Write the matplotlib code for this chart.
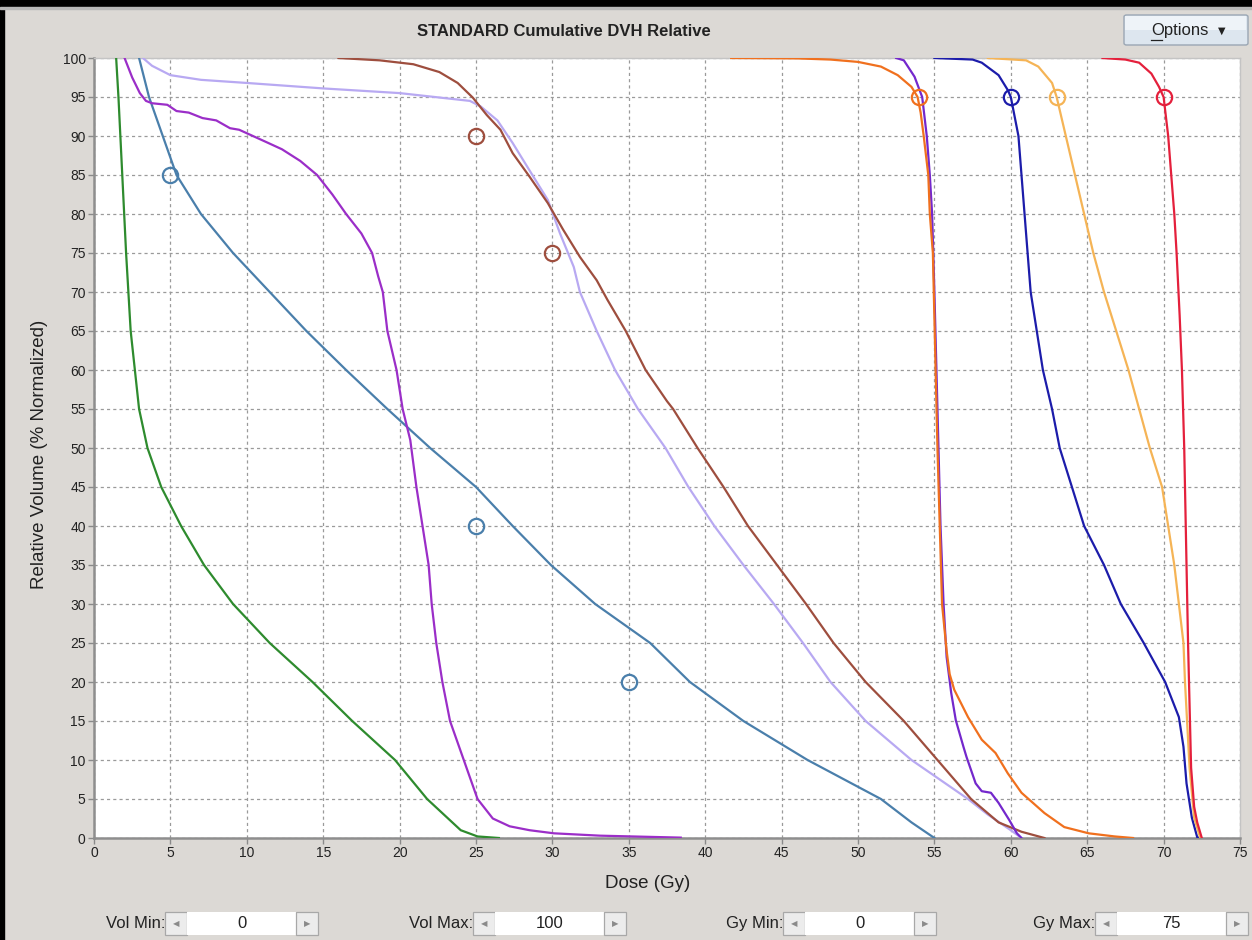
import matplotlib
matplotlib.use("Agg")
import matplotlib.pyplot as plt
from matplotlib.patches import Rectangle, FancyBboxPatch
from matplotlib.lines import Line2D

plt.rcParams['font.family'] = ['Liberation Sans', 'DejaVu Sans']

# ---------------- data (dose Gy, relative volume %) ----------------
green_dose = [1.45, 1.6, 1.85, 2.1, 2.4, 2.95, 3.5, 4.4, 5.7, 7.2, 9.1, 11.5, 14.3, 16.9, 19.7, 21.8, 24.0, 25.1, 26.5]
green_vol = [100, 95, 85, 75, 65, 55, 50, 45, 40, 35, 30, 25, 20, 15, 10, 5, 1, 0.2, 0]

steel_dose = [2.95, 3.6, 4.5, 5.4, 7.0, 9.1, 11.5, 13.9, 16.5, 19.2, 22.0, 25.0, 27.4, 29.9, 32.8, 36.4, 39.0, 42.5, 46.7, 51.5, 53.5, 55.0]
steel_vol = [100, 95, 90, 85, 80, 75, 70, 65, 60, 55, 50, 45, 40, 35, 30, 25, 20, 15, 10, 5, 2, 0]

magenta_dose = [2.0, 2.5, 3.0, 3.4, 3.8, 4.8, 5.4, 6.2, 7.1, 8.0, 8.9, 9.5, 10.4, 11.3, 12.3, 13.5, 14.6, 15.6, 16.5,
                17.5, 18.2, 18.6, 18.9, 19.2, 19.8, 20.2, 20.7, 21.1, 21.5, 21.9, 22.1, 22.4, 22.8, 23.3, 24.2, 25.1,
                26.1, 27.2, 28.5, 30.1, 33.1, 38.4]
magenta_vol = [100, 97.5, 95.5, 94.5, 94.2, 94.0, 93.2, 93.0, 92.3, 92.0, 91.0, 90.8, 90, 89.2, 88.3, 86.8, 85, 82.5, 80,
               77.5, 75, 72, 70, 65, 60, 55, 51, 45, 40, 35, 30, 25, 20, 15, 10, 5,
               2.5, 1.5, 1.0, 0.6, 0.3, 0.05]

lavender_dose = [3.2, 3.8, 5.0, 7.0, 10.0, 15.0, 20.0, 24.6, 25.3, 26.4, 27.4, 28.5, 29.7, 30.5, 31.4, 31.8, 32.9, 34.1,
                 35.6, 37.4, 38.9, 40.6, 42.5, 44.5, 46.4, 48.2, 50.5, 53.5, 57.2, 58.5, 60.0, 60.7]
lavender_vol = [100, 99, 97.8, 97.2, 96.8, 96.1, 95.5, 94.5, 93.8, 92, 89.1, 85.6, 81.8, 77.5, 73.2, 70, 65, 60,
                55, 50, 45, 40, 35, 30, 25, 20, 15, 10, 5, 3, 1, 0]

brown_dose = [16.0, 18.7, 20.9, 22.6, 23.8, 24.8, 25.7, 26.6, 27.4, 28.5, 29.7, 30.7, 31.8, 32.9, 33.6, 34.8, 36.1,
              37.5, 37.9, 39.5, 41.2, 42.8, 44.7, 46.6, 48.4, 50.5, 53.0, 55.2, 57.4, 59.2, 60.7, 62.2]
brown_vol = [100, 99.7, 99.2, 98.2, 96.8, 94.9, 92.7, 90.8, 87.8, 84.8, 81.4, 78, 74.5, 71.5, 69, 65, 60,
             56, 55, 50, 45, 40, 35, 30, 25, 20, 15, 10, 5, 2, 0.8, 0]

violet_dose = [52.5, 53.0, 53.7, 54.2, 54.5, 54.7, 54.85, 55.0, 55.2, 55.4, 55.6, 55.8, 56.1, 56.4, 56.9, 57.1, 57.7,
               58.1, 58.7, 59.2, 59.9, 60.4, 60.7]
violet_vol = [100, 99.7, 97.6, 95, 90, 85, 80, 70, 55, 40, 30, 23.2, 18.6, 15.1, 11.7, 10.4, 7, 6.0, 5.8, 4.5, 2.3, 0.6, 0]

orange_dose = [41.7, 46.0, 48.2, 50.0, 51.5, 52.6, 53.5, 53.9, 54.1, 54.3, 54.6, 54.7, 54.9, 55.2, 55.5, 55.8, 56.0,
               56.3, 57.2, 58.1, 59.0, 59.8, 60.7, 62.2, 63.5, 65.1, 66.8, 68.0]
orange_vol = [100, 99.95, 99.8, 99.5, 98.9, 97.8, 96.3, 95, 93, 90, 85, 80, 75, 50, 30, 24, 21,
              19, 15.5, 12.6, 10.9, 8.3, 5.8, 3.2, 1.4, 0.6, 0.2, 0]

navy_dose = [55.0, 57.5, 58.1, 59.2, 59.8, 60.0, 60.5, 60.7, 60.9, 61.1, 61.3, 61.7, 62.1, 62.7, 63.2, 64.0, 64.8,
             66.1, 67.2, 68.7, 70.1, 71.0, 71.3, 71.5, 71.85, 72.2, 72.4]
navy_vol = [100, 99.8, 99.4, 97.8, 95.9, 95, 90, 85, 80, 75, 70, 65, 60, 55, 50, 45, 40,
            35, 30, 25, 20, 15.5, 11.7, 7, 2.6, 0.1, 0]

lightorange_dose = [58.5, 61.0, 61.8, 62.7, 63.0, 63.6, 64.2, 64.8, 65.4, 66.1, 66.9, 67.7, 68.4, 69.1, 69.9, 70.3,
                    70.7, 71.0, 71.3, 71.4, 71.7, 72.0, 72.4]
lightorange_vol = [100, 99.7, 98.9, 96.8, 95, 90, 85, 80, 75, 70, 65, 60, 55, 50, 45, 40,
                   35, 30, 25, 20, 9, 2.6, 0]

red_dose = [66.0, 67.5, 68.4, 69.2, 69.7, 70.0, 70.3, 70.5, 70.7, 70.85, 71.05, 71.2, 71.35, 71.6, 71.8, 72.0, 72.2, 72.5]
red_vol = [100, 99.8, 99.4, 98, 96.3, 95, 90, 85, 80, 75, 67, 60, 50, 25, 9, 4, 2, 0]

# constraint markers (open circles)
steel_mk_dose = [5, 25, 35]
steel_mk_vol = [85, 40, 20]
brown_mk_dose = [25, 30]
brown_mk_vol = [90, 75]
orange_mk_dose = [54]
orange_mk_vol = [95]
navy_mk_dose = [60]
navy_mk_vol = [95]
lightorange_mk_dose = [63]
lightorange_mk_vol = [95]
red_mk_dose = [70]
red_mk_vol = [95]

x_ticks = list(range(0, 80, 5))
y_ticks = list(range(0, 105, 5))

title_text = "STANDARD Cumulative DVH Relative"
x_label = "Dose (Gy)"
y_label = "Relative Volume (% Normalized)"
control_labels = ["Vol Min:", "Vol Max:", "Gy Min:", "Gy Max:"]
control_values = ["0", "100", "0", "75"]

# ---------------- colours ----------------
C_GREEN = "#2e8b2e"
C_STEEL = "#4a7fab"
C_MAGENTA = "#9b2ec8"
C_LAVENDER = "#b8a9f2"
C_BROWN = "#9e4e3e"
C_VIOLET = "#7428cc"
C_ORANGE = "#f0701e"
C_NAVY = "#1c1caa"
C_LORANGE = "#f5b456"
C_RED = "#e4203c"
BG = "#dcd9d5"

W, H = 1252, 940
fig = plt.figure(figsize=(W / 100, H / 100), dpi=100, facecolor=BG)


def fx(x):
    return x / W


def fy(y):
    return 1 - y / H


# black frame parts
fig.patches.append(Rectangle((0, fy(7)), 1, 7 / H, transform=fig.transFigure, color="black", zorder=0))
fig.patches.append(Rectangle((0, 0), 4 / W, 1, transform=fig.transFigure, color="black", zorder=0))
fig.patches.append(Rectangle((0, fy(9)), 1, 2 / H, transform=fig.transFigure, color="#b8b8b8", zorder=0))

ax = fig.add_axes([fx(94), fy(838), (1240 - 94) / W, (838 - 58) / H])
ax.set_facecolor("white")

lw = 1.6
ax.plot(green_dose, green_vol, color=C_GREEN, lw=lw, zorder=3)
ax.plot(steel_dose, steel_vol, color=C_STEEL, lw=lw, zorder=3)
ax.plot(magenta_dose, magenta_vol, color=C_MAGENTA, lw=lw, zorder=3)
ax.plot(lavender_dose, lavender_vol, color=C_LAVENDER, lw=lw, zorder=3)
ax.plot(brown_dose, brown_vol, color=C_BROWN, lw=lw, zorder=3)
ax.plot(violet_dose, violet_vol, color=C_VIOLET, lw=lw, zorder=3)
ax.plot(orange_dose, orange_vol, color=C_ORANGE, lw=lw, zorder=3)
ax.plot(navy_dose, navy_vol, color=C_NAVY, lw=lw, zorder=3)
ax.plot(lightorange_dose, lightorange_vol, color=C_LORANGE, lw=lw, zorder=3)
ax.plot(red_dose, red_vol, color=C_RED, lw=lw, zorder=3)

mk = dict(marker="o", linestyle="none", markersize=11, markerfacecolor="none", markeredgewidth=1.6, zorder=4)
ax.plot(steel_mk_dose, steel_mk_vol, markeredgecolor=C_STEEL, **mk)
ax.plot(brown_mk_dose, brown_mk_vol, markeredgecolor=C_BROWN, **mk)
ax.plot(orange_mk_dose, orange_mk_vol, markeredgecolor=C_ORANGE, **mk)
ax.plot(navy_mk_dose, navy_mk_vol, markeredgecolor=C_NAVY, **mk)
ax.plot(lightorange_mk_dose, lightorange_mk_vol, markeredgecolor=C_LORANGE, **mk)
ax.plot(red_mk_dose, red_mk_vol, markeredgecolor=C_RED, **mk)

ax.set_xlim(0, 75)
ax.set_ylim(0, 100)
ax.set_xticks(x_ticks)
ax.set_yticks(y_ticks)
ax.grid(True, color="#9a9a9a", linestyle=(0, (2.5, 2.5)), linewidth=0.9, zorder=1)
ax.set_axisbelow(True)
ax.tick_params(axis="both", direction="out", length=4, width=1, color="#8a8a8a",
               labelsize=10, labelcolor="#222222", pad=2)
for side in ["left", "bottom"]:
    ax.spines[side].set_color("#8e8e8e")
    ax.spines[side].set_linewidth(1.8)
for side in ["top", "right"]:
    ax.spines[side].set_color("#c4c4c4")
    ax.spines[side].set_linewidth(1.0)

# axis labels
fig.text(fx(648), fy(884), x_label, ha="center", va="center", fontsize=13.5, color="#222222")
fig.text(fx(40), fy(454), y_label, ha="center", va="center", rotation=90, fontsize=13.5, color="#222222")

# title
fig.text(fx(564), fy(32), title_text, ha="center", va="center", fontsize=12, fontweight="bold", color="#222222")

# Options button
fig.patches.append(FancyBboxPatch((fx(1124), fy(45)), (1248 - 1124) / W, 30 / H,
                                  boxstyle="round,pad=0,rounding_size=0.002", transform=fig.transFigure,
                                  facecolor="#dde6ef", edgecolor="#9aa6b4", linewidth=1.0))
fig.patches.append(Rectangle((fx(1125), fy(30)), (1246 - 1125) / W, 14 / H, transform=fig.transFigure,
                             facecolor="#eef3f8", edgecolor="none"))
fig.text(fx(1151), fy(31), "Options", ha="left", va="center", fontsize=12, color="#222222")
fig.lines.append(Line2D([fx(1151), fx(1162)], [fy(39.5), fy(39.5)], transform=fig.transFigure,
                        color="#222222", lw=0.9))
fig.text(fx(1222), fy(31), "\u25BC", ha="center", va="center", fontsize=7, color="#222222",
         family=["DejaVu Sans"])

# bottom spin controls
ctrl_label_right = [165, 473, 783, 1095]
box_w_btn = 22
field_w = 109
y_top, y_bot = 912, 935
yc = (y_top + y_bot) / 2
for lab, val, xr in zip(control_labels, control_values, ctrl_label_right):
    fig.text(fx(xr), fy(yc), lab, ha="right", va="center", fontsize=12, color="#222222")
    # left button
    fig.patches.append(Rectangle((fx(xr), fy(y_bot)), box_w_btn / W, (y_bot - y_top) / H,
                                 transform=fig.transFigure, facecolor="#ececec", edgecolor="#a8a8a8", lw=0.9))
    fig.text(fx(xr + box_w_btn / 2), fy(yc), "\u25C0", ha="center", va="center", fontsize=6,
             color="#8a8a8a", family=["DejaVu Sans"])
    # field
    fx0 = xr + box_w_btn
    fig.patches.append(Rectangle((fx(fx0), fy(y_bot)), field_w / W, (y_bot - y_top) / H,
                                 transform=fig.transFigure, facecolor="white", edgecolor="none"))
    fig.text(fx(fx0 + field_w / 2), fy(yc), val, ha="center", va="center", fontsize=12, color="#222222")
    # right button
    rb = fx0 + field_w
    fig.patches.append(Rectangle((fx(rb), fy(y_bot)), box_w_btn / W, (y_bot - y_top) / H,
                                 transform=fig.transFigure, facecolor="#ececec", edgecolor="#a8a8a8", lw=0.9))
    fig.text(fx(rb + box_w_btn / 2), fy(yc), "\u25B6", ha="center", va="center", fontsize=6,
             color="#8a8a8a", family=["DejaVu Sans"])

fig.savefig("out.png", dpi=100, facecolor=BG)
